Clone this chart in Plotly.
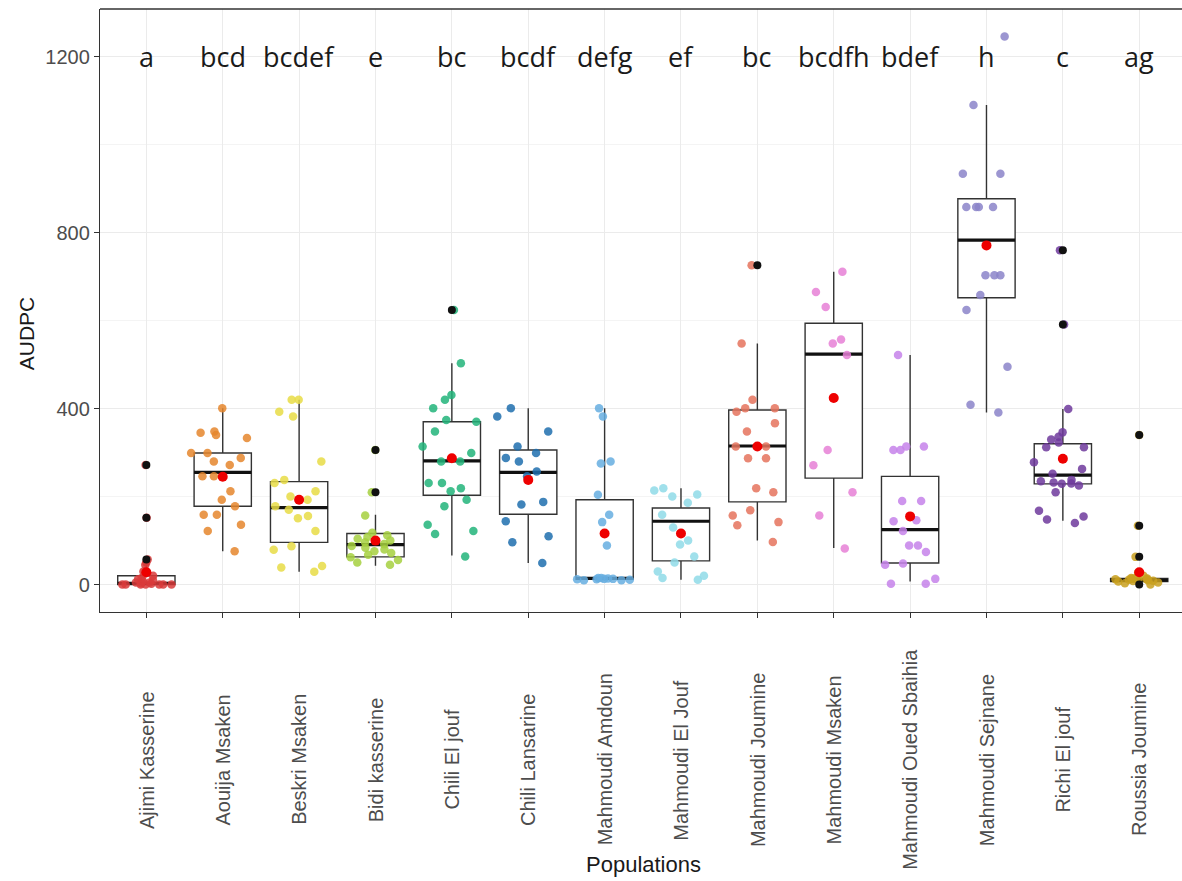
import plotly.graph_objects as go

# Populations (x categories) and significance letters
populations = ["Ajimi Kasserine", "Aouija Msaken", "Beskri Msaken", "Bidi kasserine",
               "Chili El jouf", "Chili Lansarine", "Mahmoudi Amdoun", "Mahmoudi El Jouf",
               "Mahmoudi Joumine", "Mahmoudi Msaken", "Mahmoudi Oued Sbaihia",
               "Mahmoudi Sejnane", "Richi El jouf", "Roussia Joumine"]
letters = ["a", "bcd", "bcdef", "e", "bc", "bcdf", "defg", "ef", "bc", "bcdfh",
           "bdef", "h", "c", "ag"]

# AUDPC observations per population
ajimi_kasserine = [272, 152, 57, 50, 45, 30, 25, 20, 15, 12, 10, 8, 5, 5, 3, 2, 0, 0, 0, 0, 0, 0, 0]
aouija_msaken = [401, 348, 345, 340, 333, 299, 299, 288, 280, 272, 246, 246, 212, 193,
                 178, 159, 159, 136, 122, 76]
beskri_msaken = [420, 420, 393, 382, 280, 238, 231, 212, 200, 193, 178, 170, 156, 151,
                 122, 87, 79, 42, 39, 29]
bidi_kasserine = [306, 210, 157, 118, 112, 108, 104, 100, 96, 92, 88, 84, 80, 76, 72,
                  68, 62, 56, 50, 45]
chili_el_jouf = [624, 503, 431, 420, 401, 374, 370, 348, 314, 299, 280, 280, 231, 231,
                 219, 212, 193, 178, 136, 122, 115, 64]
chili_lansarine = [401, 382, 348, 314, 299, 288, 280, 257, 246, 188, 182, 144, 110, 96, 49]
mahmoudi_amdoun = [401, 382, 280, 275, 204, 159, 142, 89, 15, 15, 14, 13, 13, 12, 12,
                   11, 10, 10]
mahmoudi_el_jouf = [219, 214, 205, 200, 186, 159, 130, 100, 91, 64, 50, 30, 20, 15, 11]
mahmoudi_joumine = [726, 548, 420, 401, 401, 393, 367, 348, 314, 314, 287, 287, 219,
                    210, 169, 157, 142, 135, 97]
mahmoudi_msaken = [711, 665, 631, 557, 548, 522, 306, 271, 210, 157, 82]
mahmoudi_oued_sbaihia = [522, 314, 314, 306, 306, 190, 190, 144, 146, 122, 89, 89, 74,
                         48, 45, 13, 2, 2]
mahmoudi_sejnane = [1246, 1090, 934, 934, 858, 858, 858, 858, 703, 703, 703, 658, 624,
                    495, 409, 391]
richi_el_jouf = [760, 591, 399, 346, 336, 330, 323, 312, 312, 278, 263, 252, 238, 235,
                 232, 230, 229, 225, 210, 168, 155, 148, 140]
roussia_joumine = [340, 134, 63, 27, 20, 16, 15, 14, 13, 12, 12, 11, 10, 10, 9, 8, 7,
                   5, 3, 0]

observations = [ajimi_kasserine, aouija_msaken, beskri_msaken, bidi_kasserine,
                chili_el_jouf, chili_lansarine, mahmoudi_amdoun, mahmoudi_el_jouf,
                mahmoudi_joumine, mahmoudi_msaken, mahmoudi_oued_sbaihia,
                mahmoudi_sejnane, richi_el_jouf, roussia_joumine]

# Box summary statistics
q1 = [0, 178, 96, 63, 203, 160, 12, 54, 188, 242, 49, 652, 229, 7]
median = [3, 255, 175, 91, 281, 255, 14, 144, 315, 524, 125, 783, 249, 10]
q3 = [20, 299, 234, 116, 370, 306, 193, 174, 397, 594, 246, 877, 320, 14]
lower_whisker = [0, 76, 29, 43, 66, 49, 10, 11, 100, 83, 7, 391, 145, 3]
upper_whisker = [50, 401, 420, 159, 503, 401, 401, 219, 548, 711, 522, 1090, 399, 27]
means = [28, 245, 193, 100, 287, 238, 116, 116, 314, 424, 155, 771, 286, 28]

# Outlying observations (beyond whiskers)
outliers = {
    "Ajimi Kasserine": [272, 152, 57],
    "Bidi kasserine": [306, 210],
    "Chili El jouf": [624],
    "Mahmoudi Joumine": [726],
    "Richi El jouf": [760, 591],
    "Roussia Joumine": [340, 134, 63, 0],
}

colors = ["#d93b3b", "#e5862d", "#e7dc45", "#a6d03f", "#22b47a", "#1f6fae", "#66aee0",
          "#8fdbe8", "#e5735d", "#e680d6", "#c682ea", "#8b84c9", "#6e3a9c", "#c9a01e"]

BORDER = "#333333"

fig = go.Figure()

# Boxes (white fill, no whisker caps)
fig.add_trace(go.Box(
    x=populations, q1=q1, median=median, q3=q3,
    lowerfence=lower_whisker, upperfence=upper_whisker,
    width=0.75, whiskerwidth=0, fillcolor="white",
    line=dict(color=BORDER, width=1.4), boxpoints=False,
    showlegend=False, hoverinfo="skip"))

# Thick median bars
fig.add_trace(go.Box(
    x=populations, q1=median, median=median, q3=median,
    lowerfence=median, upperfence=median,
    width=0.75, whiskerwidth=0, fillcolor="rgba(0,0,0,0)",
    line=dict(color="#111111", width=3.2), boxpoints=False,
    showlegend=False, hoverinfo="skip"))

# Jittered observations
for pop, vals, col in zip(populations, observations, colors):
    fig.add_trace(go.Box(
        x=[pop] * len(vals), y=vals, boxpoints="all", jitter=1.0, pointpos=0,
        width=0.85, fillcolor="rgba(0,0,0,0)",
        line=dict(width=0, color="rgba(0,0,0,0)"),
        marker=dict(color=col, size=8.5, opacity=0.85),
        hoveron="points", showlegend=False, name=pop))

# Outliers drawn at the box centre
out_x, out_y = [], []
for pop, vals in outliers.items():
    out_x += [pop] * len(vals)
    out_y += vals
fig.add_trace(go.Scatter(
    x=out_x, y=out_y, mode="markers",
    marker=dict(color="#111111", size=8), showlegend=False))

# Group means
fig.add_trace(go.Scatter(
    x=populations, y=means, mode="markers",
    marker=dict(color="#ee0000", size=10), showlegend=False))

annotations = []
for pop, lab in zip(populations, letters):
    annotations.append(dict(
        x=pop, y=1200, xref="x", yref="y", text=lab, showarrow=False,
        xanchor="center", yanchor="middle",
        font=dict(family="Open Sans", size=27, color="#1a1a1a")))
    annotations.append(dict(
        x=pop, y=-0.245, xref="x", yref="paper", text=pop, showarrow=False,
        textangle=-90, xanchor="center", yanchor="middle",
        font=dict(family="Liberation Sans", size=20, color="#4d4d4d")))

annotations.append(dict(
    x=-0.068, y=0.463, xref="paper", yref="paper", text="AUDPC", showarrow=False,
    textangle=-90, xanchor="center", yanchor="middle",
    font=dict(family="Liberation Sans", size=21, color="#1a1a1a")))
annotations.append(dict(
    x=0.502, y=-0.418, xref="paper", yref="paper", text="Populations", showarrow=False,
    xanchor="center", yanchor="middle",
    font=dict(family="Liberation Sans", size=22, color="#1a1a1a")))

fig.update_layout(
    width=1182, height=881,
    margin=dict(l=100, r=0, t=9, b=269),
    plot_bgcolor="white", paper_bgcolor="white",
    boxmode="overlay",
    annotations=annotations,
    # top panel border (the right edge of the panel runs past the canvas)
    shapes=[dict(type="line", xref="paper", yref="paper", x0=0, x1=1, y0=1, y1=1,
                 line=dict(color=BORDER, width=1.4), layer="above")],
    xaxis=dict(
        type="category", categoryorder="array", categoryarray=populations,
        range=[-0.607, 13.56],
        showgrid=True, gridcolor="#ebebeb", gridwidth=1,
        showline=True, mirror=False, linecolor=BORDER, linewidth=1.4,
        ticks="outside", ticklen=5, tickcolor=BORDER,
        showticklabels=False, zeroline=False),
    yaxis=dict(
        range=[-62.3, 1308.3], tick0=0, dtick=400,
        showgrid=True, gridcolor="#ebebeb", gridwidth=1,
        minor=dict(dtick=200, showgrid=True, gridcolor="#f4f4f4", gridwidth=1),
        showline=True, mirror=False, linecolor=BORDER, linewidth=1.4,
        ticks="outside", ticklen=5, tickcolor=BORDER,
        tickfont=dict(family="Liberation Sans", size=20, color="#4d4d4d"),
        zeroline=False),
)

fig.write_html("out.html")
